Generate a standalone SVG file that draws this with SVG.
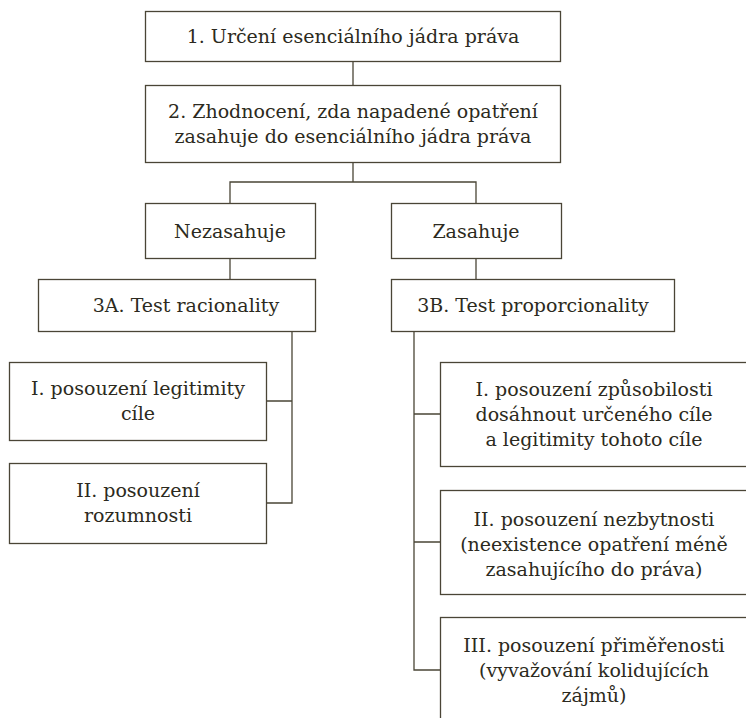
<svg xmlns="http://www.w3.org/2000/svg" width="746" height="718" viewBox="0 0 746 718">
<style>
.box{fill:#ffffff;stroke:#4a4536;stroke-width:1.3}
.ln{fill:none;stroke:#4a4536;stroke-width:1.3}
text{font-family:"DejaVu Serif","Liberation Serif",serif;font-size:19px;fill:#2c2a20;text-anchor:middle}
</style>
<rect width="746" height="718" fill="#ffffff"/>
<g id="connectors">
<path class="ln" d="M353 61V85"/>
<path class="ln" d="M353 162V182M230 203V182H476V203"/>
<path class="ln" d="M230 258V279"/>
<path class="ln" d="M476 258V279"/>
<path class="ln" d="M292 331V503H266M292 401H266"/>
<path class="ln" d="M414 331V670H440M414 414H440M414 542H440"/>
</g>
<g id="n1"><rect class="box" x="145.5" y="11.5" width="415" height="50"/><text x="353" y="43">1. Určení esenciálního jádra práva</text></g>
<g id="n2"><rect class="box" x="145.5" y="85.5" width="415" height="77"/><text x="353" y="118">2. Zhodnocení, zda napadené opatření</text><text x="353" y="143">zasahuje do esenciálního jádra práva</text></g>
<g id="nez"><rect class="box" x="145.5" y="203.5" width="170" height="55"/><text x="230" y="238">Nezasahuje</text></g>
<g id="zas"><rect class="box" x="391.5" y="203.5" width="170" height="55"/><text x="476" y="238">Zasahuje</text></g>
<g id="n3a"><rect class="box" x="38.5" y="279.5" width="277" height="52"/><text x="186" y="312">3A. Test racionality</text></g>
<g id="n3b"><rect class="box" x="391.5" y="279.5" width="283" height="52"/><text x="533" y="312">3B. Test proporcionality</text></g>
<g id="a1"><rect class="box" x="9.5" y="362.5" width="257" height="78"/><text x="138" y="395">I. posouzení legitimity</text><text x="138" y="420">cíle</text></g>
<g id="a2"><rect class="box" x="9.5" y="463.5" width="257" height="80"/><text x="138" y="497">II. posouzení</text><text x="138" y="522">rozumnosti</text></g>
<g id="b1"><rect class="box" x="440.5" y="362.5" width="310" height="104"/><text x="594" y="396">I. posouzení způsobilosti</text><text x="594" y="421">dosáhnout určeného cíle</text><text x="594" y="446">a legitimity tohoto cíle</text></g>
<g id="b2"><rect class="box" x="440.5" y="490.5" width="310" height="104"/><text x="594" y="526">II. posouzení nezbytnosti</text><text x="594" y="551">(neexistence opatření méně</text><text x="594" y="576">zasahujícího do práva)</text></g>
<g id="b3"><rect class="box" x="440.5" y="617.5" width="310" height="110"/><text x="594" y="652">III. posouzení přiměřenosti</text><text x="594" y="677">(vyvažování kolidujících</text><text x="594" y="702">zájmů)</text></g>
</svg>
